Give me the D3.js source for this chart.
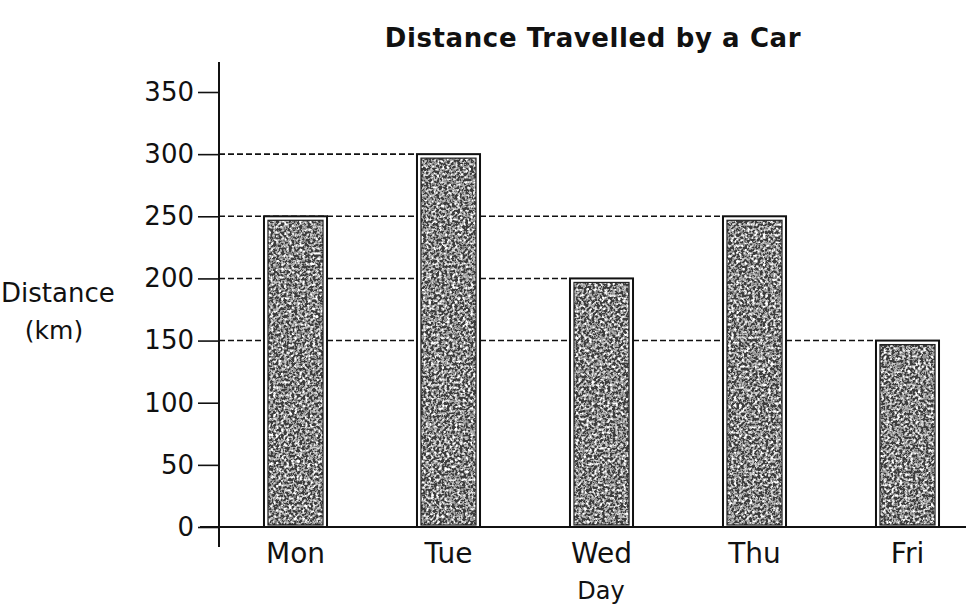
<!DOCTYPE html>
<html>
<head>
<meta charset="utf-8">
<script src="https://cdn.jsdelivr.net/npm/d3@7"></script>
<style>
  html, body { margin: 0; padding: 0; background: #ffffff; }
  svg { display: block; }
</style>
</head>
<body>
<div id="chart"></div>
<script>
// chart data
const days = ["Mon", "Tue", "Wed", "Thu", "Fri"];
const distances = [250, 300, 200, 250, 150];
const yTicks = [0, 50, 100, 150, 200, 250, 300, 350];
const guideValues = [300, 250, 200, 150];

const width = 966;
const height = 607;
const axisX = 219;
const baseY = 527;

const svg = d3.select("#chart").append("svg")
  .attr("width", width)
  .attr("height", height)
  .style("font-family", "'DejaVu Sans', sans-serif");

// speckled scan-like fill for the bars
const defs = svg.append("defs");
const grain = defs.append("filter")
  .attr("id", "grain")
  .attr("x", 0).attr("y", 0)
  .attr("width", "100%").attr("height", "100%");

grain.append("feTurbulence")
  .attr("type", "fractalNoise")
  .attr("baseFrequency", 0.38)
  .attr("numOctaves", 2)
  .attr("seed", 7)
  .attr("result", "noise");

grain.append("feColorMatrix")
  .attr("in", "noise")
  .attr("type", "matrix")
  .attr("values", "1.6 1.6 1.6 0 -2.1  1.6 1.6 1.6 0 -2.1  1.6 1.6 1.6 0 -2.1  0 0 0 0 1")
  .attr("result", "gray");

const ct = grain.append("feComponentTransfer")
  .attr("in", "gray")
  .attr("result", "spots");
["feFuncR", "feFuncG", "feFuncB"].forEach(f => {
  ct.append(f).attr("type", "discrete").attr("tableValues", "0.05 0.18 0.32 0.45 0.6 0.8 1");
});

grain.append("feComposite")
  .attr("in", "spots")
  .attr("in2", "SourceGraphic")
  .attr("operator", "in");

const x = d3.scaleBand()
  .domain(days)
  .range([axisX, axisX + 765])
  .paddingInner(0.588)
  .paddingOuter(0.294);

const y = d3.scaleLinear()
  .domain([0, 350])
  .range([baseY, 92]);

// title
svg.append("text")
  .attr("x", 593)
  .attr("y", 47)
  .attr("text-anchor", "middle")
  .attr("font-size", "26px")
  .attr("font-weight", "bold")
  .attr("letter-spacing", "0.6px")
  .attr("fill", "#111")
  .text("Distance Travelled by a Car");

// dashed guide lines, each running to the last bar that reaches it
guideValues.forEach(v => {
  const lastIdx = distances.lastIndexOf(v);
  svg.append("line")
    .attr("x1", axisX)
    .attr("x2", x(days[lastIdx]))
    .attr("y1", y(v))
    .attr("y2", y(v))
    .attr("stroke", "#111")
    .attr("stroke-width", 1.6)
    .attr("stroke-dasharray", "6,3");
});

// bars
const bars = svg.append("g")
  .selectAll("g")
  .data(days.map((d, i) => ({ day: d, value: distances[i] })))
  .join("g");

bars.append("rect")
  .attr("x", d => x(d.day))
  .attr("y", d => y(d.value))
  .attr("width", x.bandwidth())
  .attr("height", d => baseY - y(d.value))
  .attr("fill", "#ffffff")
  .attr("stroke", "#111")
  .attr("stroke-width", 2);

bars.append("rect")
  .attr("x", d => x(d.day) + 4)
  .attr("y", d => y(d.value) + 4)
  .attr("width", x.bandwidth() - 8)
  .attr("height", d => baseY - y(d.value) - 6)
  .attr("fill", "#555")
  .attr("filter", "url(#grain)");

bars.append("rect")
  .attr("x", d => x(d.day) + 4)
  .attr("y", d => y(d.value) + 4)
  .attr("width", x.bandwidth() - 8)
  .attr("height", d => baseY - y(d.value) - 6)
  .attr("fill", "none")
  .attr("stroke", "#222")
  .attr("stroke-width", 1.2);

// y axis
const yAxis = svg.append("g")
  .attr("transform", `translate(${axisX},0)`)
  .call(d3.axisLeft(y).tickValues(yTicks).tickSize(21).tickPadding(4));

yAxis.select(".domain").remove();
yAxis.selectAll(".tick line").attr("stroke", "#111").attr("stroke-width", 1.6);
yAxis.selectAll(".tick text")
  .attr("font-size", "26px")
  .attr("font-family", "'DejaVu Sans', sans-serif")
  .attr("fill", "#111");

svg.append("line")
  .attr("x1", axisX).attr("x2", axisX)
  .attr("y1", 62).attr("y2", 547)
  .attr("stroke", "#111")
  .attr("stroke-width", 2);

// x axis
svg.append("line")
  .attr("x1", 200).attr("x2", width)
  .attr("y1", baseY).attr("y2", baseY)
  .attr("stroke", "#111")
  .attr("stroke-width", 2);

const xAxis = svg.append("g")
  .attr("transform", `translate(0,${baseY})`)
  .call(d3.axisBottom(x).tickSize(0).tickPadding(16));

xAxis.select(".domain").remove();
xAxis.selectAll(".tick text")
  .attr("font-size", "28px")
  .attr("font-family", "'DejaVu Sans', sans-serif")
  .attr("fill", "#111");

// axis titles
svg.append("text")
  .attr("x", 1)
  .attr("y", 302)
  .attr("font-size", "26px")
  .attr("fill", "#111")
  .text("Distance");

svg.append("text")
  .attr("x", 54)
  .attr("y", 339)
  .attr("text-anchor", "middle")
  .attr("font-size", "25px")
  .attr("fill", "#111")
  .text("(km)");

svg.append("text")
  .attr("x", 601)
  .attr("y", 599)
  .attr("text-anchor", "middle")
  .attr("font-size", "24px")
  .attr("fill", "#111")
  .text("Day");
</script>
</body>
</html>
